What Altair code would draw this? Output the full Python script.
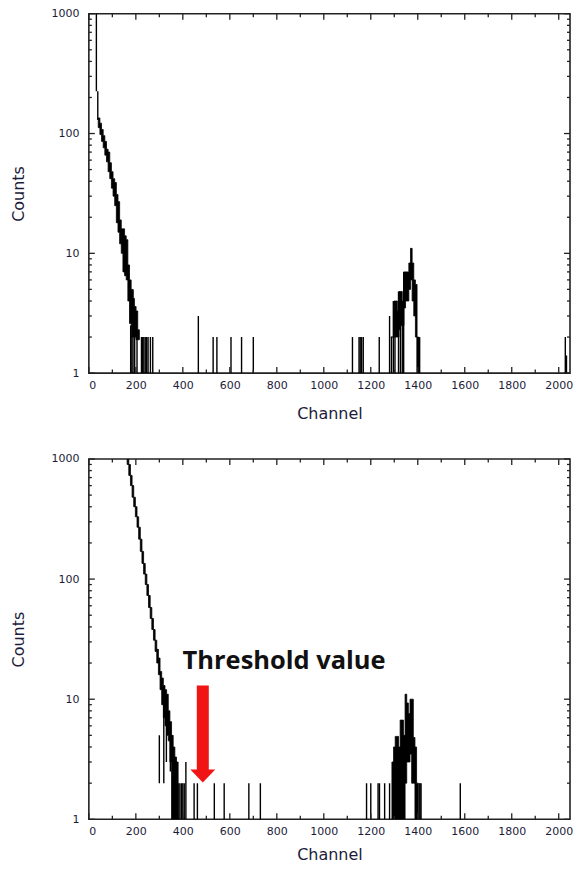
import altair as alt
import pandas as pd

# ---------------- data ----------------
# Upper spectrum: dense part drawn as a band (channel, upper, lower)
top_band_ch = [40, 47, 54, 61, 68, 75, 82, 89, 96, 103, 110, 117, 124, 131, 138, 145, 152, 159, 166, 173, 180, 187, 194, 201, 208, 215]
top_band_hi = [135, 122, 108, 96, 86, 74, 70, 57, 48, 42, 39, 31, 27, 19, 16, 16, 14, 13, 8, 6, 5, 4.2, 3.6, 3.3, 2.3, 2]
top_band_lo = [112, 98, 86, 76, 66, 58, 48, 42, 35, 30, 25, 18, 15, 12, 10, 7, 6.5, 6, 4, 2.6, 2, 2, 2, 1.9, 1.9, 1.9]

top_peak_ch = [1285, 1292, 1299, 1306, 1313, 1320, 1327, 1334, 1341, 1348, 1355, 1362, 1369, 1376, 1383, 1390, 1397, 1404]
top_peak_hi = [2, 2, 4, 4, 3.3, 4.8, 4.8, 4, 7, 7, 7, 8.3, 11, 8.3, 6, 5.5, 2, 2]
top_peak_lo = [2, 2, 2, 2, 2, 2.3, 2.5, 2.5, 3.5, 4, 4, 5, 6, 4, 3, 2, 1, 1]

# Upper spectrum: single vertical strokes (channel, from, to)
top_spk_ch = [32, 38, 178, 183, 188, 195, 205, 224, 229, 234, 240, 246, 252, 262, 272,
              466, 529, 545, 605, 650, 700, 1122, 1150, 1155, 1161, 1168, 1236, 1280,
              1288, 1296, 1303, 1318, 1326, 1334, 1340, 1398, 1403, 1408, 2028, 2033]
top_spk_lo = [225, 130, 1, 1, 1, 1, 1, 1, 1, 1, 1, 1, 1, 1, 1,
              1, 1, 1, 1, 1, 1, 1, 1, 1, 1, 1, 1, 1,
              1, 1, 1, 1, 1, 1, 1, 1, 1, 1, 1, 1]
top_spk_hi = [1000, 225, 2.5, 2, 5, 2, 2, 2, 2, 2, 2, 2, 2, 2, 2,
              3, 2, 2, 2, 2, 2, 2, 2, 2, 2, 2, 2, 3,
              2, 4, 2, 4.8, 2.5, 3, 7, 2, 2, 2, 2, 1.4]

# Lower spectrum
bot_band_ch = [163, 170, 177, 184, 191, 198, 205, 212, 219, 226, 233, 240, 247, 254, 261, 268, 275, 282, 289, 296, 303, 310, 317, 324, 331, 338, 345, 352, 359, 366, 373, 380]
bot_band_hi = [1100, 900, 730, 600, 480, 400, 330, 270, 215, 170, 135, 110, 90, 73, 58, 47, 38, 31, 26, 22, 17, 15, 13, 12, 11, 8, 6.5, 5, 4, 3.3, 3, 2.5]
bot_band_lo = [900, 730, 600, 480, 400, 330, 270, 215, 170, 135, 110, 90, 73, 58, 47, 38, 31, 25, 20, 16, 12, 9, 7, 6, 5, 4.5, 3, 1, 1, 1, 1, 1]

bot_peak_ch = [1290, 1297, 1304, 1311, 1318, 1325, 1332, 1339, 1346, 1353, 1360, 1367, 1374, 1381, 1388, 1395, 1402]
bot_peak_hi = [3, 4, 4.9, 4.9, 4, 6.7, 6.7, 5, 11, 9.3, 7.6, 10, 10, 4.8, 4, 2, 2]
bot_peak_lo = [1, 1, 1, 1, 1, 1, 1, 1, 2, 3, 3, 3.5, 2, 2, 1, 1, 1]

bot_spk_ch = [300, 319, 330, 347, 383, 388, 395, 400, 406, 413, 448, 462, 534, 576, 681, 730,
              1182, 1200, 1231, 1237, 1259, 1280, 1406, 1410, 1414, 1581]
bot_spk_lo = [2, 2, 3, 2.5, 1, 1, 1, 1, 1, 1, 1, 1, 1, 1, 1, 1,
              1, 1, 1, 1, 1, 1, 1, 1, 1, 1]
bot_spk_hi = [5, 12, 10, 6, 2, 2, 2, 2, 2, 3, 2, 2, 2, 2, 2, 2,
              2, 2, 2, 2, 2, 2, 2, 2, 2, 2]

# Annotation
note_text = ["Threshold value"]
note_ch = [399]
note_count = [18]
arrow_ch = [485]
arrow_top = [13]
arrow_bottom = [2.55]
arrow_head = [2.29]

# Axes
x_labels = [0, 200, 400, 600, 800, 1000, 1200, 1400, 1600, 1800, 2000]
x_minor = [100, 300, 500, 700, 900, 1100, 1300, 1500, 1700, 1900]
y_labels = [1, 10, 100, 1000]
y_minor = [2, 3, 4, 5, 6, 7, 8, 9, 20, 30, 40, 50, 60, 70, 80, 90, 200, 300, 400, 500, 600, 700, 800, 900]

# ---------------- chart ----------------
W = 482
H_TOP, H_BOT = 360, 361
INK = "#1c1c3a"

xscale = alt.Scale(domain=[0, 2048], nice=False, zero=False)
yscale = alt.Scale(type="log", domain=[1, 1000], nice=False)


def make_X(title_pad):
    def X(field):
        return alt.X(f"{field}:Q", scale=xscale,
                     axis=alt.Axis(values=x_labels, title="Channel", labelPadding=6.5,
                                   titlePadding=title_pad, format="d"))
    return X


def Y(field):
    return alt.Y(f"{field}:Q", scale=yscale,
                 axis=alt.Axis(values=y_labels, title="Counts", labelPadding=10,
                               titlePadding=24.5, format="d"))


def ticks(X, H):
    xmaj = pd.DataFrame({"t": x_labels})
    xmin = pd.DataFrame({"t": x_minor})
    ymaj = pd.DataFrame({"t": y_labels})
    ymin = pd.DataFrame({"t": y_minor})
    layers = []
    for df, ln in ((xmaj, 6), (xmin, 3.5)):
        base = alt.Chart(df).mark_rule(color="#222", strokeWidth=1.3)
        layers.append(base.encode(x=X("t"), y=alt.value(H), y2=alt.value(H - ln)))
        layers.append(base.encode(x=X("t"), y=alt.value(0), y2=alt.value(ln)))
    for df, ln in ((ymaj, 6), (ymin, 3)):
        base = alt.Chart(df).mark_rule(color="#222", strokeWidth=1.3)
        layers.append(base.encode(x=alt.value(0), y=Y("t"), x2=alt.value(ln)))
        layers.append(base.encode(x=alt.value(W), y=Y("t"), x2=alt.value(W - ln)))
    return layers


def spectrum(X, band_sets, spk):
    layers = []
    for ch, hi, lo in band_sets:
        df = pd.DataFrame({"ch": ch, "hi": hi, "lo": lo})
        layers.append(alt.Chart(df).mark_area(interpolate="step-after", color="black",
                                              stroke="black", strokeWidth=0.8,
                                              opacity=1, clip=True)
                      .encode(x=X("ch"), y=Y("hi"), y2=alt.Y2("lo")))
    ch, lo, hi = spk
    df = pd.DataFrame({"ch": ch, "hi": hi, "lo": lo})
    layers.append(alt.Chart(df).mark_rule(color="black", strokeWidth=1.4, clip=True)
                  .encode(x=X("ch"), y=Y("hi"), y2=alt.Y2("lo")))
    return layers


Xt = make_X(14.5)
Xb = make_X(10)

top_layers = spectrum(Xt, [(top_band_ch, top_band_hi, top_band_lo),
                           (top_peak_ch, top_peak_hi, top_peak_lo)],
                      (top_spk_ch, top_spk_lo, top_spk_hi)) + ticks(Xt, H_TOP)
top = alt.layer(*top_layers).properties(width=W, height=H_TOP)

note_df = pd.DataFrame({"ch": note_ch, "count": note_count, "label": note_text})
arrow_df = pd.DataFrame({"ch": arrow_ch, "top": arrow_top, "bottom": arrow_bottom, "head": arrow_head})

annot = [
    alt.Chart(note_df).mark_text(align="left", baseline="alphabetic", font="Open Sans",
                                 fontWeight="bold", fontSize=25.5, color="#111")
    .encode(x=Xb("ch"), y=Y("count"), text="label:N"),
    alt.Chart(arrow_df).mark_rule(color="#f01414", strokeWidth=12, strokeCap="butt")
    .encode(x=Xb("ch"), y=Y("top"), y2=alt.Y2("bottom")),
    alt.Chart(arrow_df).mark_point(shape="M-1,-0.52L1,-0.52L0,0.52Z", size=625, filled=True,
                                   color="#f01414", opacity=1, strokeWidth=0)
    .encode(x=Xb("ch"), y=Y("head")),
]

bot_layers = spectrum(Xb, [(bot_band_ch, bot_band_hi, bot_band_lo),
                           (bot_peak_ch, bot_peak_hi, bot_peak_lo)],
                      (bot_spk_ch, bot_spk_lo, bot_spk_hi)) + ticks(Xb, H_BOT) + annot
bottom = alt.layer(*bot_layers).properties(width=W, height=H_BOT)

chart = (
    alt.vconcat(top, bottom, spacing=30)
    .properties(padding={"left": 1, "top": -2, "right": 0, "bottom": -1})
    .configure_view(stroke="#222", strokeWidth=1.6)
    .configure_axis(labelFont="DejaVu Sans", labelFontSize=11, labelColor=INK,
                    titleFont="DejaVu Sans", titleFontSize=16, titleFontWeight="normal",
                    titleColor=INK, ticks=False, tickSize=0, domain=False, grid=False)
)

chart.save("out.html", embed_options={"renderer": "svg", "actions": False})
